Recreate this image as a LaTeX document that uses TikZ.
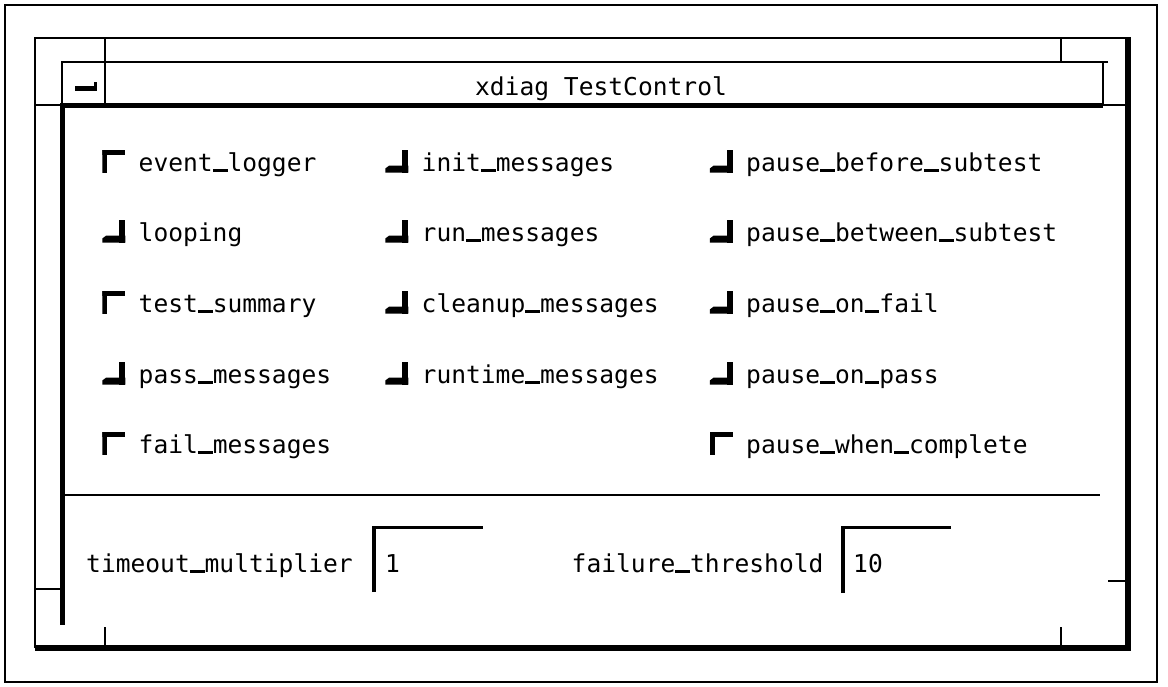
\documentclass[tikz,border=0pt]{standalone}
\usepackage{fontspec}
\newfontfamily\fixa{DejaVu Sans Mono}
\newcommand\traco{\rule[-1pt]{0.602em}{3pt}}
\usetikzlibrary{positioning}
\begin{document}
\begin{tikzpicture}[x=1pt, y=-1pt,
    fino/.style={line width=2pt},
    grosso/.style={line width=5pt},
    rotulo/.style={anchor=base west, inner sep=0pt, font=\fixa\fontsize{24.6}{28}\selectfont},
    caixa/.style={minimum width=23pt, minimum height=23pt, inner sep=0pt, left=13pt of #1, yshift=10pt},
    ligado/.style={caixa=#1, path picture={
        \fill (path picture bounding box.north west) rectangle ([xshift=5pt]path picture bounding box.south west);
        \fill (path picture bounding box.north west) rectangle ([yshift=-5pt]path picture bounding box.north east);}},
    desligado/.style={caixa=#1, path picture={
        \fill ([xshift=-6pt]path picture bounding box.north east) rectangle (path picture bounding box.south east);
        \fill ([yshift=4pt]path picture bounding box.south west) -- ([xshift=4pt,yshift=7pt]path picture bounding box.south west)
          -- ([yshift=7pt]path picture bounding box.south east) -- (path picture bounding box.south east)
          -- (path picture bounding box.south west) -- cycle;}}]
\useasboundingbox (0,0) rectangle (1168,686);
% Moldura externa
\draw[fino] (5,5) rectangle (1157,682);
% Borda da janela
\draw[fino] (35,648) -- (35,38) -- (1128,38);
\draw[line width=6pt] (35,648) -- (1128,648) -- (1128,37);
% Cantos de redimensionamento
\draw[fino] (105,38) -- (105,105);
\draw[fino] (1061,38) -- (1061,62);
\draw[fino] (105,627) -- (105,648);
\draw[fino] (1061,627) -- (1061,648);
\draw[fino] (35,105) -- (62,105);
\draw[fino] (35,589) -- (62,589);
\draw[fino] (1103,105) -- (1128,105);
\draw[fino] (1108,581) -- (1128,581);
% Barra de titulo
\draw[fino] (1108,62) -- (62,62) -- (62,105);
\draw[fino] (1103,62) -- (1103,105);
\draw[grosso] (60,105) -- (1103,105);
\draw[grosso] (62,105) -- (62,625);
\fill (75,86) rectangle (97,91);
\fill (94,82) rectangle (97,91);
\node[rotulo, anchor=base] (titulo) at (601,95) {xdiag TestControl};
% Primeira coluna
\node[rotulo] (evlog) at (138.5,171) {event\traco logger};
\node[ligado=evlog.base west] (cevlog) {};
\node[rotulo] (loop) at (138.5,241) {looping};
\node[desligado=loop.base west] (cloop) {};
\node[rotulo] (tsum) at (138.5,312) {test\traco summary};
\node[ligado=tsum.base west] (ctsum) {};
\node[rotulo] (passm) at (138.5,383) {pass\traco messages};
\node[desligado=passm.base west] (cpassm) {};
\node[rotulo] (failm) at (138.5,453) {fail\traco messages};
\node[ligado=failm.base west] (cfailm) {};
% Segunda coluna
\node[rotulo] (initm) at (421.5,171) {init\traco messages};
\node[desligado=initm.base west] (cinitm) {};
\node[rotulo] (runm) at (421.5,241) {run\traco messages};
\node[desligado=runm.base west] (crunm) {};
\node[rotulo] (cleanm) at (421.5,312) {cleanup\traco messages};
\node[desligado=cleanm.base west] (ccleanm) {};
\node[rotulo] (rtm) at (421.5,383) {runtime\traco messages};
\node[desligado=rtm.base west] (crtm) {};
% Terceira coluna
\node[rotulo] (pbefore) at (746,171) {pause\traco before\traco subtest};
\node[desligado=pbefore.base west] (cpbefore) {};
\node[rotulo] (pbetween) at (746,241) {pause\traco between\traco subtest};
\node[desligado=pbetween.base west] (cpbetween) {};
\node[rotulo] (pfail) at (746,312) {pause\traco on\traco fail};
\node[desligado=pfail.base west] (cpfail) {};
\node[rotulo] (ppass) at (746,383) {pause\traco on\traco pass};
\node[desligado=ppass.base west] (cppass) {};
\node[rotulo] (pwhen) at (746,453) {pause\traco when\traco complete};
\node[ligado=pwhen.base west] (cpwhen) {};
% Separador
\draw[fino] (62,495) -- (1100,495);
% Campos de texto
\node[rotulo] (tmult) at (86,572) {timeout\traco multiplier};
\draw[line width=4pt] (374,592) -- (374,527);
\draw[line width=3pt] (372,527) -- (483,527);
\node[rotulo] (vmult) at (385,572) {1};
\node[rotulo] (fthr) at (571.5,572) {failure\traco threshold};
\draw[line width=4pt] (843,593) -- (843,527);
\draw[line width=3pt] (841,527) -- (951,527);
\node[rotulo] (vthr) at (853,572) {10};
\end{tikzpicture}
\end{document}
